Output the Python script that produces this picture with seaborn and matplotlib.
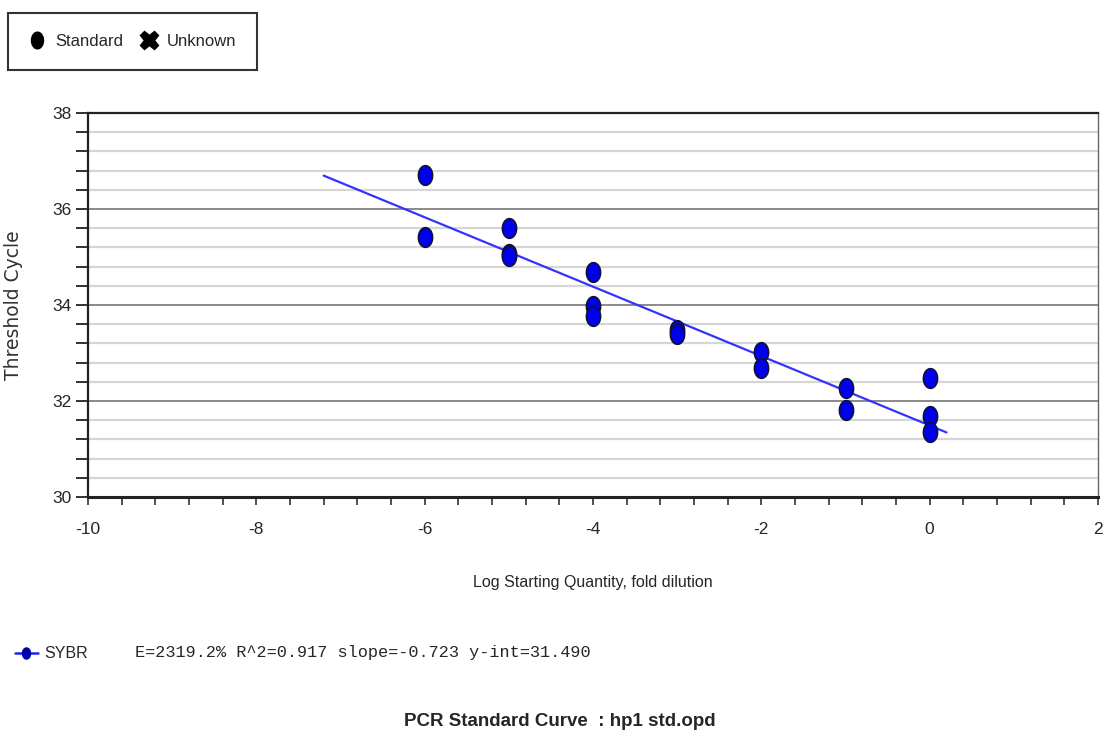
import numpy as np
import pandas as pd
import matplotlib.pyplot as plt
import seaborn as sns
from matplotlib.path import Path
from matplotlib.lines import Line2D
from matplotlib.ticker import MultipleLocator

# Standard points
log_qty = [-6, -6, -5, -5, -5, -4, -4, -4, -3, -3, -2, -2, -1, -1, 0, 0, 0]
ct = [36.71, 35.42, 35.60, 35.06, 35.02, 34.69, 33.98, 33.77, 33.48, 33.40,
      33.02, 32.69, 32.27, 31.81, 32.48, 31.69, 31.35]

# fit reported by the instrument
slope = -0.723
y_int = 31.490
fit_range = [-7.2, 0.2]
stats_text = "E=2319.2% R^2=0.917 slope=-0.723 y-int=31.490"

sns.set_style("white")
plt.rcParams["font.family"] = ["Liberation Sans", "DejaVu Sans"]
plt.rcParams["axes.unicode_minus"] = False

df = pd.DataFrame({"x": log_qty, "y": ct})
fit = pd.DataFrame({"x": fit_range})
fit["y"] = slope * fit["x"] + y_int

fig = plt.figure(figsize=(11.05, 7.4), dpi=100)
ax = fig.add_axes([88 / 1105, 1 - 497 / 740, 1010 / 1105, 384 / 740])

# elliptical marker, taller than wide
t = np.linspace(0, 2 * np.pi, 40)
ellipse = Path(np.column_stack([0.72 * np.cos(t), np.sin(t)]))

sns.lineplot(data=fit, x="x", y="y", ax=ax, color="#3333ff", lw=1.6, zorder=3)
sns.scatterplot(data=df, x="x", y="y", ax=ax, marker=ellipse, s=200,
                color="#0000ee", edgecolor="#111133", linewidth=1.2, zorder=4)

ax.set_xlim(-10, 2)
ax.set_ylim(30, 38)
ax.xaxis.set_major_locator(MultipleLocator(2))
ax.xaxis.set_minor_locator(MultipleLocator(0.4))
ax.yaxis.set_major_locator(MultipleLocator(2))
ax.yaxis.set_minor_locator(MultipleLocator(0.4))
ax.grid(True, axis="y", which="minor", color="#d6d6d6", lw=1.6)
ax.grid(True, axis="y", which="major", color="#8a8a8a", lw=1.4)
ax.set_axisbelow(True)

ax.tick_params(axis="y", which="both", direction="out", length=9, width=1.3,
               color="#222222", labelsize=12.5, left=True, pad=3)
ax.tick_params(axis="x", which="both", direction="out", length=6, width=1.1,
               color="#222222", labelsize=12.5, bottom=True, pad=12)
for side in ["left", "bottom", "top"]:
    ax.spines[side].set_color("#222222")
    ax.spines[side].set_linewidth(1.6)
ax.spines["bottom"].set_linewidth(2.2)
ax.spines["right"].set_color("#666666")
ax.spines["right"].set_linewidth(1.0)

ax.set_xlabel("Log Starting Quantity, fold dilution", fontsize=11.5, labelpad=27)
ax.set_ylabel("Threshold Cycle", fontsize=13.5, family="DejaVu Sans",
              color="#333333")
ax.yaxis.set_label_coords(-0.064, 0.5)

# top legend
handles = [
    Line2D([], [], ls="none", marker=ellipse, markersize=12, color="black"),
    Line2D([], [], ls="none", marker="X", markersize=13, color="black"),
]
leg = fig.legend(handles, ["Standard", "Unknown"], ncol=2,
                 loc="upper left", bbox_to_anchor=(8 / 1105, 1 - 13 / 740),
                 frameon=True, fancybox=False, edgecolor="black",
                 fontsize=12, handlelength=1.0, handletextpad=0.6,
                 columnspacing=1.0, borderpad=1.25, borderaxespad=0)
leg.get_frame().set_linewidth(1.5)

# bottom series legend
fig.add_artist(Line2D([15 / 1105, 38 / 1105], [1 - 653 / 740] * 2,
                      color="#2222ee", lw=1.8))
fig.add_artist(Line2D([26 / 1105], [1 - 653 / 740], marker=ellipse,
                      markersize=8, color="#0000aa"))
fig.text(44 / 1105, 1 - 653 / 740, "SYBR", fontsize=11.5, va="center")
fig.text(135 / 1105, 1 - 653 / 740, stats_text, fontsize=12.2,
         family="Liberation Mono", va="center")

fig.text(560 / 1105, 1 - 722 / 740, "PCR Standard Curve  : hp1 std.opd",
         fontsize=13.5, fontweight="bold", ha="center", va="center")

fig.savefig("out.png", dpi=100)
